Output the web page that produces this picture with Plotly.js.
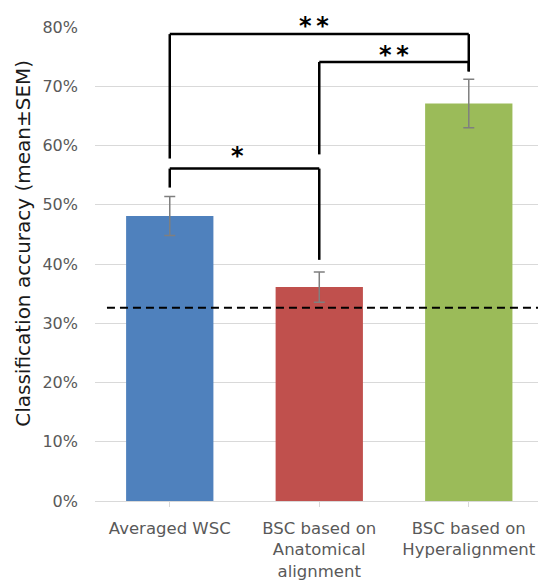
<!DOCTYPE html>
<html>
<head>
<meta charset="utf-8">
<script src="https://cdn.plot.ly/plotly-3.0.1.min.js"></script>
<style>html,body{margin:0;padding:0;background:#fff;}#chart{width:538px;height:586px;}</style>
</head>
<body>
<div id="chart"></div>
<script>
// Data
var categories = ["Averaged WSC", "BSC based on<br>Anatomical<br>alignment", "BSC based on<br>Hyperalignment"];
var accuracy = [48.1, 36.1, 67.1];
var sem = [3.3, 2.55, 4.1];
var barColors = ["#4f81bd", "#c0504d", "#9bbb59"];
var chanceLevel = 32.6;
var yTicks = [0, 10, 20, 30, 40, 50, 60, 70, 80];
var yTickText = yTicks.map(function (v) { return v + "%"; });
var yTitle = "Classification accuracy (mean±SEM)";

// Significance brackets
var bracketFrom = [0, 0, 1];
var bracketTo = [1, 2, 2];
var bracketTop = [56.1, 78.8, 74.1];
var bracketLeftBottom = [52.9, 57.8, 58.5];
var bracketRightBottom = [40.7, 72.5, 72.5];
var bracketLabel = ["*", "*\u2009*", "*\u2009*"];
var bracketLabelX = [0.45, 0.965, 1.5];
var bracketLabelY = [58.3, 80.2, 75.3];

var yMax = 80;

var trace = {
  type: "bar",
  x: [0, 1, 2],
  y: accuracy,
  width: 0.584,
  marker: {color: barColors},
  error_y: {type: "data", array: sem, visible: true, color: "#7f7f7f", thickness: 1.5, width: 5.5},
  hoverinfo: "none"
};

var shapes = [];
var annotations = [];
var lineStyle = {color: "#000", width: 2.5};
for (var i = 0; i < bracketFrom.length; i++) {
  var a = bracketFrom[i], b = bracketTo[i], t = bracketTop[i];
  shapes.push({type: "line", xref: "x", yref: "y", x0: a, x1: a, y0: bracketLeftBottom[i], y1: t, line: lineStyle});
  shapes.push({type: "line", xref: "x", yref: "y", x0: a, x1: b, y0: t, y1: t, line: lineStyle});
  shapes.push({type: "line", xref: "x", yref: "y", x0: b, x1: b, y0: t, y1: bracketRightBottom[i], line: lineStyle});
  annotations.push({xref: "x", yref: "paper", x: bracketLabelX[i], y: bracketLabelY[i] / yMax, text: bracketLabel[i],
    showarrow: false, yanchor: "middle", font: {family: "DejaVu Sans", size: 24, color: "#000", weight: 700}});
}
// y-axis title
annotations.push({xref: "paper", yref: "paper", x: -0.1614, y: 0.5437, xanchor: "center", yanchor: "middle",
  textangle: -90, showarrow: false, text: yTitle, font: {family: "DejaVu Sans", size: 20, color: "#1a1a1a"}});

// chance-level dashed line
shapes.push({type: "line", xref: "paper", yref: "y", x0: 0.027, x1: 1, y0: chanceLevel, y1: chanceLevel,
  line: {color: "#000", width: 2, dash: "8px,5px"}});

var layout = {
  width: 538, height: 586,
  margin: {l: 95, r: 0, t: 27, b: 85, pad: 0},
  paper_bgcolor: "#fff", plot_bgcolor: "#fff",
  showlegend: false,
  font: {family: "DejaVu Sans", color: "#595959"},
  xaxis: {
    range: [-0.5, 2.463],
    tickmode: "array", tickvals: [0, 1, 2], ticktext: categories,
    showgrid: false, zeroline: false,
    showline: true, linecolor: "#d9d9d9", linewidth: 1,
    ticks: "outside", ticklen: 5, tickcolor: "#d9d9d9",
    ticklabelstandoff: 7,
    tickfont: {family: "DejaVu Sans", size: 16.5, color: "#595959"},
    fixedrange: true
  },
  yaxis: {
    range: [0, yMax],
    tickmode: "array", tickvals: yTicks, ticktext: yTickText,
    showgrid: true, gridcolor: "#d9d9d9", gridwidth: 1,
    zeroline: false, showline: false,
    ticklabelstandoff: 16,
    tickfont: {family: "DejaVu Sans", size: 16, color: "#595959"},
    fixedrange: true
  },
  shapes: shapes,
  annotations: annotations
};

Plotly.newPlot("chart", [trace], layout, {displayModeBar: false, staticPlot: true});
</script>
</body>
</html>
